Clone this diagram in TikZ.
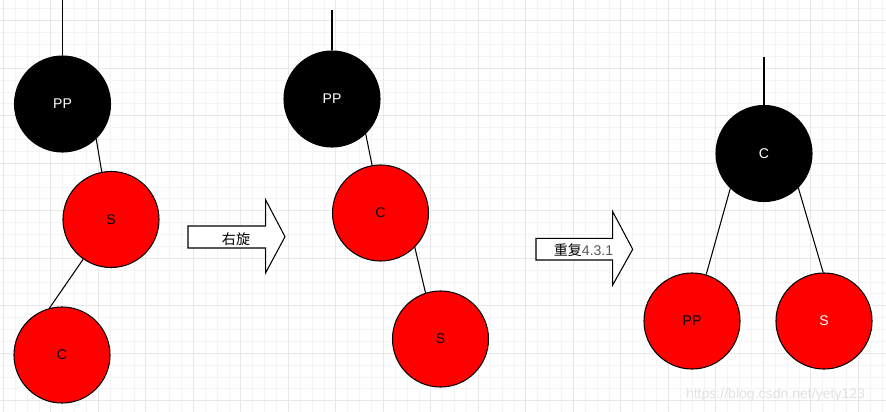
\documentclass[tikz,border=0pt]{standalone}
\usepackage{fontspec}
\setmainfont{Liberation Sans}
\newfontfamily\cjk{Noto Sans CJK SC}
\usetikzlibrary{positioning}
\definecolor{gridmajor}{HTML}{E8E8E8}
\definecolor{gridminor}{HTML}{F4F4F4}
\definecolor{nodered}{HTML}{FF0000}
\definecolor{markgray}{HTML}{E2E2E2}

\begin{document}
\begin{tikzpicture}[x=0.025cm, y=-0.025cm,
  blacknode/.style={circle, draw, line width=0.75pt, fill=black, text=white, minimum size=2.4cm, inner sep=0pt, font=\fontsize{10}{12}\selectfont},
  rednode/.style={circle, draw, line width=0.75pt, fill=nodered, text=black, minimum size=2.4cm, inner sep=0pt, font=\fontsize{10}{12}\selectfont},
  link/.style={draw, line width=0.75pt},
  blockarrow/.style={draw, line width=0.75pt, fill=white, line join=miter},
  arrowtext/.style={inner sep=0pt, font=\fontsize{10}{12}\selectfont}
]
  \useasboundingbox (0,0) rectangle (886,412);
  \fill[white] (0,0) rectangle (886,412);

  % grid
  \foreach \gx in {-1,...,74} \draw[gridminor, line width=0.5pt] ({3.3+\gx*11.875},0) -- ({3.3+\gx*11.875},412);
  \foreach \gy in {-1,...,34} \draw[gridminor, line width=0.5pt] (0,{20.7+\gy*11.875}) -- (886,{20.7+\gy*11.875});
  \foreach \gx in {0,...,18} \draw[gridmajor, line width=0.5pt] ({3.3+\gx*47.5},0) -- ({3.3+\gx*47.5},412);
  \foreach \gy in {0,...,8} \draw[gridmajor, line width=0.5pt] (0,{20.7+\gy*47.5}) -- (886,{20.7+\gy*47.5});

  % before rotation
  \node[blacknode] (pp1) at (62.5,104) {PP};
  \node[rednode] (s1) at (111,219.5) {S};
  \node[rednode] (c1) at (62,355) {C};
  \coordinate (top1) at (62.5,0);

  % after rotation
  \node[blacknode] (pp2) at (332,99) {PP};
  \node[rednode] (c2) at (380.5,213) {C};
  \node[rednode] (s2) at (440.5,339) {S};
  \coordinate (top2) at (332,10);

  % after recolour
  \node[blacknode] (c3) at (764,153.5) {C};
  \node[rednode] (pp3) at (692,321) {PP};
  \node[rednode, text=white] (s3) at (824,321) {S};
  \coordinate (top3) at (764,57);

  \draw[link] (top1) -- (pp1.north);
  \draw[link] (pp1.-46) -- (s1.101);
  \draw[link] (s1.235) -- (c1.105);

  \draw[link] (top2) -- (pp2.north);
  \draw[link] (pp2.-46) -- (c2.100);
  \draw[link] (c2.-45) -- (s2.108);

  \draw[link] (top3) -- (c3.north);
  \draw[link] (c3.226) -- (pp3.73);
  \draw[link] (c3.-45) -- (s3.91);

  % block arrows
  \draw[blockarrow] (188,226) -- (265.7,226) -- (265.7,200) -- (285,236.7) -- (265.7,272.7) -- (265.7,248) -- (188,248) -- cycle;
  \node[arrowtext] (rot) at (236,239) {\cjk 右旋};

  \draw[blockarrow] (536,238.3) -- (612.7,238.3) -- (612.7,211.7) -- (632.7,249.3) -- (612.7,285) -- (612.7,260) -- (536,260) -- cycle;
  \node[arrowtext] (rep) at (583.5,250.5) {{\cjk 重复}\textcolor{black!65}{4.3.1}};

  \node[font=\fontsize{10}{12}\selectfont, text=markgray, inner sep=0pt] (mark) at (775.5,395) {https://blog.csdn.net/yety123};
\end{tikzpicture}
\end{document}
